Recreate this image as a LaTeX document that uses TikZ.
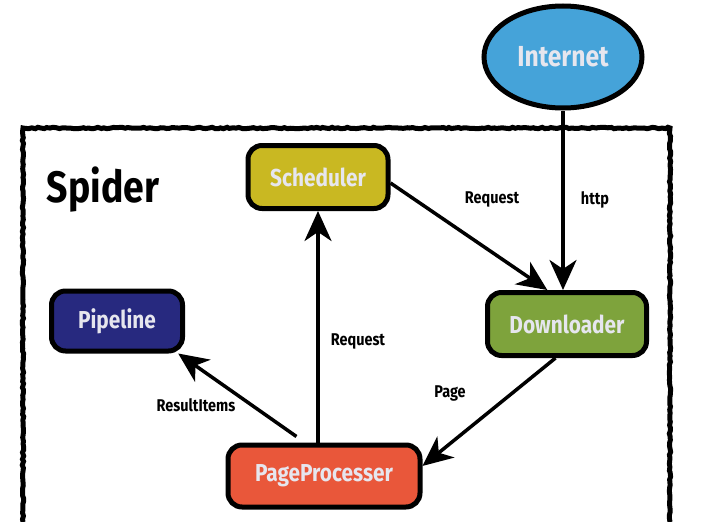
\documentclass[tikz,border=0pt]{standalone}
\usepackage{fontspec}
\setmainfont{Fira Sans}[FakeStretch=0.85]
\usetikzlibrary{arrows.meta,decorations.pathmorphing,shapes.geometric,calc}
\definecolor{inetblue}{HTML}{45A3D9}
\definecolor{schedyel}{HTML}{C9B822}
\definecolor{dlgreen}{HTML}{7EA33C}
\definecolor{pipenavy}{HTML}{27297F}
\definecolor{pporange}{HTML}{E9573A}
\definecolor{lighttxt}{HTML}{E6E6EE}
\tikzset{
  x=1pt,y=-1pt,
  sketch/.style={decorate,decoration={random steps,segment length=3pt,amplitude=0.7pt}},
  comp/.style={rounded corners=14pt,draw=black,line width=5pt,text=lighttxt,
    font=\fontsize{24.5}{26}\selectfont\bfseries,inner sep=0pt},
  lbl/.style={font=\fontsize{17}{19}\selectfont\bfseries,text=black},
  arr/.style={line width=3.5pt,-{Stealth[length=30pt,width=27pt,inset=9pt]}},
}
\begin{document}
\begin{tikzpicture}
\useasboundingbox (0,0) rectangle (723,522);
% Spider frame
\draw[line width=5pt,sketch] (23,522) -- (23,128) -- (670,128) -- (670,522);
\node[font=\fontsize{44}{48}\selectfont\bfseries] (spider) at (103,190) {Spider};
% components
\node[ellipse,draw=black,line width=5pt,fill=inetblue,text=lighttxt,
  font=\fontsize{29}{31}\selectfont\bfseries,minimum width=158pt,minimum height=102pt,inner sep=0pt]
  (Internet) at (563,57) {Internet};
\node[comp,fill=schedyel,minimum width=140pt,minimum height=63pt] (Scheduler) at (318,177) {Scheduler};
\node[comp,fill=dlgreen,minimum width=159pt,minimum height=63pt] (Downloader) at (567,324) {Downloader};
\node[comp,fill=pipenavy,minimum width=131pt,minimum height=60pt] (Pipeline) at (117,321) {Pipeline};
\node[comp,fill=pporange,minimum width=192pt,minimum height=62pt] (PageProcesser) at (324,476) {PageProcesser};
% connectors
\draw[arr] (Internet.south) -- (Internet.south |- Downloader.north);
\node[lbl] (lhttp) at (595,200) {http};
\draw[arr] (Scheduler.east) ++(0,6) coordinate (s1) (s1) -- ($(Downloader.north west)!0.38!(Downloader.north east)$);
\node[lbl] (lreq1) at (492,199) {Request};
\draw[arr] (PageProcesser.north -| Scheduler.south) -- (Scheduler.south);
\node[lbl] (lreq2) at (358,341) {Request};
\draw[arr] ($(Downloader.south west)!0.43!(Downloader.south east)$) -- ($(PageProcesser.north east)!0.35!(PageProcesser.south east)$);
\node[lbl] (lpage) at (450,393) {Page};
\draw[arr] ($(PageProcesser.north west)!0.36!(PageProcesser.north east)$) ++(0,-6) coordinate (p1) (p1) -- ($(Pipeline.south west)!0.95!(Pipeline.south east)$);
\node[lbl] (lres) at (196,405) {ResultItems};
\end{tikzpicture}
\end{document}
